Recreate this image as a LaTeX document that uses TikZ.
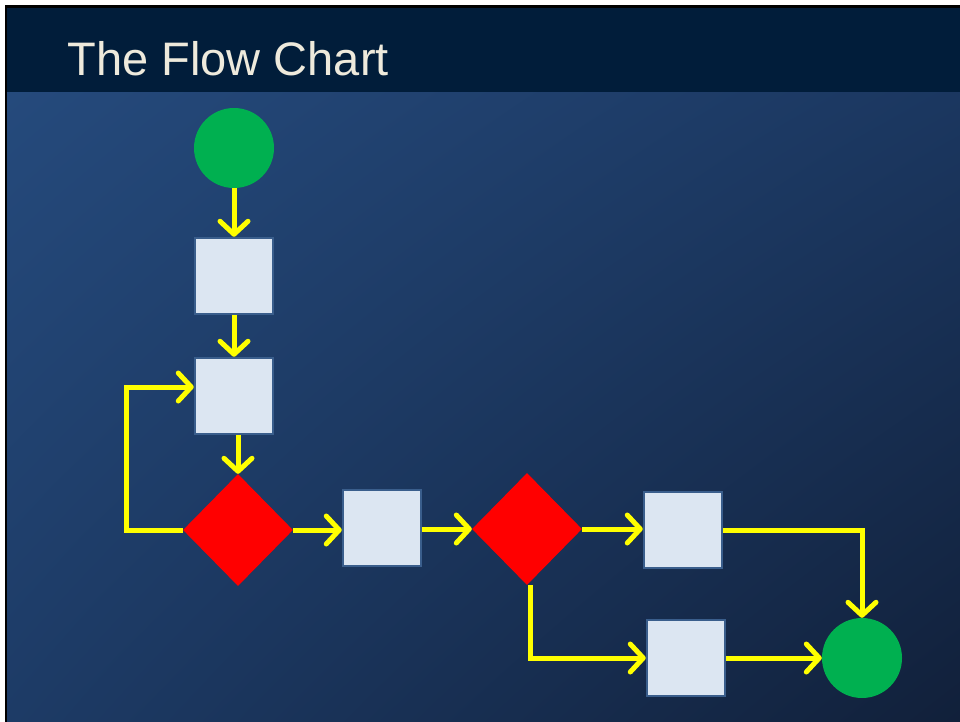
\documentclass[tikz,border=0pt]{standalone}
\usepackage{fontspec}
\setmainfont{Liberation Sans}
\usepackage{tikz}
\usetikzlibrary{arrows.meta,positioning,shapes.geometric,shadings}

\definecolor{titlebar}{RGB}{1,29,58}
\definecolor{bgul}{RGB}{37,74,124}
\definecolor{bgur}{RGB}{27,55,96}
\definecolor{bgll}{RGB}{29,59,102}
\definecolor{bglr}{RGB}{17,32,58}
\definecolor{boxfill}{RGB}{220,230,242}
\definecolor{boxline}{RGB}{58,94,140}
\definecolor{termgreen}{RGB}{0,176,80}
\definecolor{flowyellow}{RGB}{255,255,0}
\definecolor{titletext}{RGB}{238,234,220}

\begin{document}
\begin{tikzpicture}[x=1pt,y=-1pt,
		term/.style={circle,fill=termgreen,inner sep=0pt,minimum size=80pt},
		proc/.style={rectangle,fill=boxfill,draw=boxline,line width=2.5pt,inner sep=0pt,minimum width=78pt,minimum height=76pt},
		decision/.style={diamond,fill=red,inner sep=0pt,minimum width=110pt,minimum height=112pt},
		flow/.style={draw=flowyellow,line width=5pt,-{Straight Barb[length=13pt,width=28pt,line cap=round,line join=round]}}]

	\useasboundingbox (0,0) rectangle (960,722);
	\fill[white] (0,0) rectangle (960,722);
	\fill[black] (5,5) rectangle (960,722);
	\fill[titlebar] (7,8) rectangle (960,93);
	\shade[upper left=bgul,upper right=bgur,lower left=bgll,lower right=bglr] (7,93) rectangle (960,722);

	\node[anchor=base west,text=titletext,font=\fontsize{47}{47}\selectfont] (title) at (64,76) {The Flow Chart};

	\node[term] (start) at (234,148) {};
	\node[proc] (box1) at (234,276) {};
	\node[proc] (box2) at (234,396) {};
	\node[decision] (dec1) at (238,530) {};
	\node[proc] (box3) at (382,528) {};
	\node[decision] (dec2) at (527,529) {};
	\node[proc] (box4) at (683,530) {};
	\node[proc] (box5) at (686,658) {};
	\node[term] (stop) at (862,658) {};

	\draw[flow] (start) -- (box1);
	\draw[flow] (box1) -- (box2);
	\draw[flow] (box2.south -| dec1.north) -- (dec1.north);
	\draw[flow] (dec1.west) -- ++(-56,0) |- ([yshift=9pt]box2.west); %loop back
	\draw[flow] (dec1.east) -- (dec1.east -| box3.west);
	\draw[flow] (box3.east |- dec2.west) -- (dec2.west);
	\draw[flow] (dec2.east) -- (dec2.east -| box4.west);
	\draw[flow] ([xshift=3pt]dec2.south) |- (box5.west);
	\draw[flow] (box4.east) -| (stop.north);
	\draw[flow] (box5.east) -- (stop.west);
\end{tikzpicture}
\end{document}
